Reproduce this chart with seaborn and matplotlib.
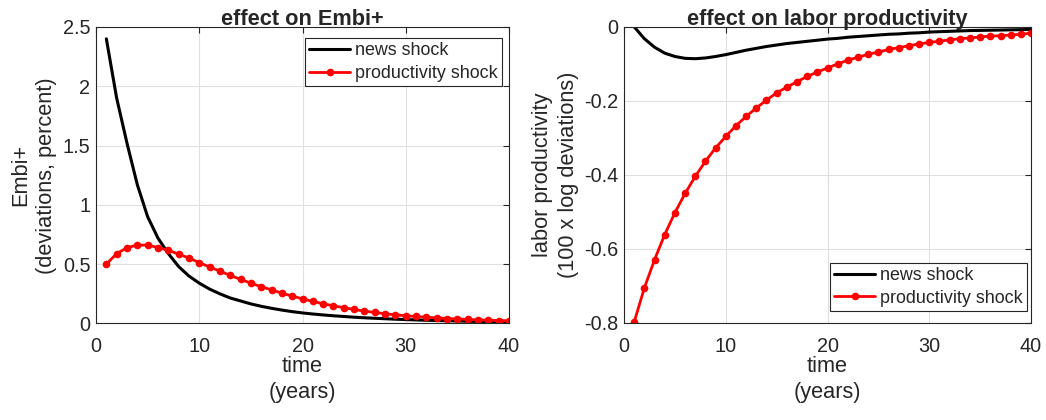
import numpy as np
import pandas as pd
import seaborn as sns
import matplotlib.pyplot as plt

# horizon in years
t = np.arange(1, 41)

# effect on Embi+ (deviations, percent)
embi_news = [2.40, 1.90, 1.52, 1.17, 0.90, 0.72, 0.59, 0.48, 0.40, 0.34,
             0.29, 0.25, 0.215, 0.19, 0.165, 0.145, 0.128, 0.113, 0.100, 0.089,
             0.080, 0.072, 0.065, 0.059, 0.053, 0.048, 0.044, 0.040, 0.036, 0.033,
             0.030, 0.027, 0.025, 0.023, 0.021, 0.019, 0.017, 0.016, 0.015, 0.014]
embi_prod = [0.50, 0.589, 0.639, 0.661, 0.661, 0.640, 0.617, 0.585, 0.552, 0.513,
             0.476, 0.442, 0.405, 0.372, 0.340, 0.310, 0.284, 0.256, 0.231, 0.208,
             0.186, 0.166, 0.149, 0.133, 0.118, 0.104, 0.093, 0.082, 0.073, 0.065,
             0.059, 0.053, 0.048, 0.042, 0.039, 0.034, 0.031, 0.028, 0.025, 0.023]

# effect on labor productivity (100 x log deviations)
lp_news = [0.0, -0.032, -0.055, -0.071, -0.080, -0.085, -0.086, -0.084, -0.080, -0.075,
           -0.069, -0.063, -0.058, -0.053, -0.049, -0.045, -0.042, -0.039, -0.036, -0.033,
           -0.031, -0.028, -0.026, -0.024, -0.022, -0.020, -0.019, -0.017, -0.016, -0.014,
           -0.013, -0.012, -0.011, -0.010, -0.0095, -0.009, -0.0085, -0.008, -0.0075, -0.007]
lp_prod = [-0.797, -0.705, -0.629, -0.561, -0.502, -0.450, -0.404, -0.363, -0.327, -0.296,
           -0.267, -0.242, -0.219, -0.198, -0.178, -0.163, -0.148, -0.134, -0.122, -0.111,
           -0.100, -0.090, -0.082, -0.074, -0.068, -0.061, -0.056, -0.051, -0.046, -0.042,
           -0.039, -0.035, -0.032, -0.030, -0.027, -0.025, -0.024, -0.022, -0.020, -0.017]

sns.set_style("white")
plt.rcParams['font.family'] = ['Liberation Sans', 'DejaVu Sans']
plt.rcParams['text.color'] = '#262626'
plt.rcParams['axes.labelcolor'] = '#262626'

fig = plt.figure(figsize=(10.46, 4.2), dpi=100)
ax1 = fig.add_axes([0.0918, 0.2298, 0.3948, 0.706])
ax2 = fig.add_axes([0.5966, 0.2310, 0.3891, 0.705])


def draw(ax, news, prod, title, ylabel, ylim, yticks, yticklabels, legloc, anchor):
    sns.lineplot(x=t, y=news, ax=ax, color='black', linewidth=2.2, label='news shock')
    sns.lineplot(x=t, y=prod, ax=ax, color='red', linewidth=2, marker='o',
                 markersize=5.5, markeredgewidth=0, label='productivity shock')
    ax.set_xlim(0, 40)
    ax.set_ylim(*ylim)
    ax.set_xticks([0, 10, 20, 30, 40])
    ax.set_yticks(yticks)
    ax.set_yticklabels(yticklabels)
    ax.grid(True, color='#e0e0e0', linewidth=0.8)
    ax.set_axisbelow(True)
    for s in ax.spines.values():
        s.set_color('#262626')
        s.set_linewidth(0.8)
    ax.tick_params(direction='in', length=4, width=0.8, colors='#262626',
                   labelsize=14.3, top=True, right=True)
    ax.tick_params(axis='x', pad=10)
    ax.tick_params(axis='y', pad=4)
    ax.set_title(title, fontsize=15.7, fontweight='bold', pad=1.5)
    ax.set_xlabel('time\n(years)', fontsize=15.7, labelpad=0, linespacing=1.3)
    ax.set_ylabel(ylabel, fontsize=15.7, labelpad=4, linespacing=1.3)
    leg = ax.legend(loc=legloc, bbox_to_anchor=anchor, fontsize=12.9, frameon=True,
                    fancybox=False, edgecolor='#262626', framealpha=1, borderpad=0.25,
                    handlelength=2.3, handletextpad=0.25, labelspacing=0.3,
                    borderaxespad=0)
    leg.get_frame().set_linewidth(0.8)


draw(ax1, embi_news, embi_prod, 'effect on Embi+', 'Embi+\n(deviations, percent)',
     (0, 2.5), [0, 0.5, 1, 1.5, 2, 2.5], ['0', '0.5', '1', '1.5', '2', '2.5'],
     'upper right', (0.983, 0.963))
draw(ax2, lp_news, lp_prod, 'effect on labor productivity',
     'labor productivity\n(100 x log deviations)',
     (-0.8, 0), [-0.8, -0.6, -0.4, -0.2, 0], ['-0.8', '-0.6', '-0.4', '-0.2', '0'],
     'lower right', (0.99, 0.04))

fig.savefig('out.png', dpi=100)
